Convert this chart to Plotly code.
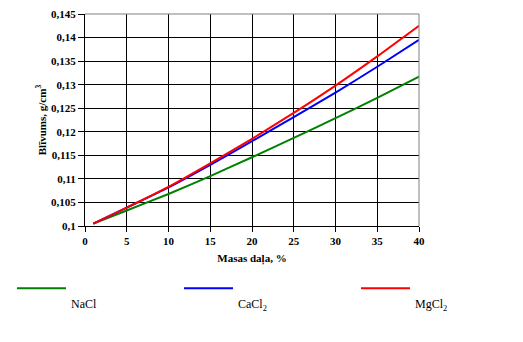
import plotly.graph_objects as go

x_vals = [1, 5, 10, 15, 20, 25, 30, 35, 40]
nacl = [0.1005, 0.1033, 0.1068, 0.1106, 0.1146, 0.1187, 0.1229, 0.1272, 0.1317]
cacl2 = [0.1005, 0.1039, 0.1082, 0.1130, 0.1180, 0.1231, 0.1283, 0.1338, 0.1395]
mgcl2 = [0.1005, 0.1039, 0.1083, 0.1133, 0.1185, 0.1240, 0.1298, 0.1360, 0.1425]

series_names = ["<br>NaCl", "<br>CaCl<sub>2</sub>", "<br>MgCl<sub>2</sub>"]
series_colors = ["#008000", "#0000FF", "#FF0000"]

x_ticks = [0, 5, 10, 15, 20, 25, 30, 35, 40]
y_ticks = [0.1, 0.105, 0.11, 0.115, 0.12, 0.125, 0.13, 0.135, 0.14, 0.145]
y_ticktext = ["0,1", "0,105", "0,11", "0,115", "0,12", "0,125", "0,13", "0,135", "0,14", "0,145"]

FONT = "Liberation Serif"
legend_ids = ["legend", "legend2", "legend3"]
legend_x = [-0.2186, 0.2814, 0.8114]

fig = go.Figure()
for name, ys, col, lid in zip(series_names, [nacl, cacl2, mgcl2], series_colors, legend_ids):
    fig.add_trace(go.Scatter(x=x_vals, y=ys, mode="lines", name=name, legend=lid,
                             line=dict(color=col, width=2, shape="spline", smoothing=0.6)))

legend_common = dict(xanchor="left", y=-0.226, yanchor="top", valign="top", itemwidth=49,
                     font=dict(family=FONT, size=12, color="black"),
                     bgcolor="rgba(0,0,0,0)")

fig.update_layout(
    width=523, height=342,
    margin=dict(l=85, r=104, t=14, b=116, autoexpand=False),
    paper_bgcolor="white", plot_bgcolor="white",
    font=dict(family=FONT, color="black", size=11),
    showlegend=True,
    legend=dict(x=legend_x[0], **legend_common),
    legend2=dict(x=legend_x[1], **legend_common),
    legend3=dict(x=legend_x[2], **legend_common),
    xaxis=dict(range=[0, 40], tickvals=x_ticks, ticktext=[f"<b>{v}</b>" for v in x_ticks],
               showgrid=True, gridcolor="black", gridwidth=1,
               showline=True, linecolor="black", linewidth=1,
               ticks="outside", ticklen=5, tickcolor="black", zeroline=False,
               title=dict(text="<b>Masas daļa, %</b>", font=dict(family=FONT, size=11), standoff=8)),
    yaxis=dict(range=[0.1, 0.145], tickvals=y_ticks, ticktext=[f"<b>{t}</b>" for t in y_ticktext],
               showgrid=True, gridcolor="black", gridwidth=1,
               showline=True, linecolor="black", linewidth=1,
               ticks="outside", ticklen=6, tickcolor="black", zeroline=False,
               title=dict(text="<b>Blīvums, g/cm<sup>3</sup></b>", font=dict(family=FONT, size=11), standoff=2)),
    shapes=[
        dict(type="line", xref="paper", yref="paper", x0=0, x1=1, y0=1, y1=1,
             line=dict(color="#808080", width=1), layer="above"),
        dict(type="line", xref="paper", yref="paper", x0=1, x1=1, y0=0, y1=1,
             line=dict(color="#808080", width=1), layer="above"),
    ],
)

fig.write_html("out.html")
